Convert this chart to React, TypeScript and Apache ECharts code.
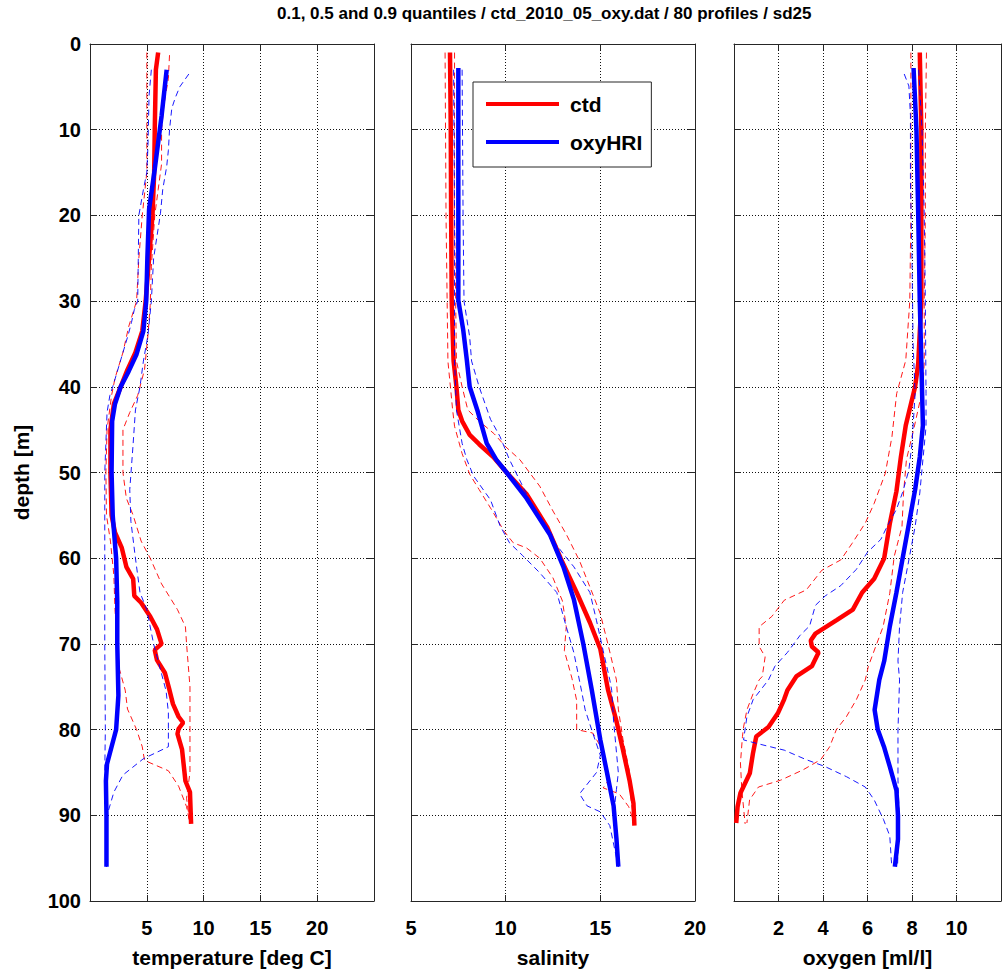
import React, { useEffect, useRef } from "react";
import * as echarts from "echarts";

// ---------- data: [depth (m), value] ----------
// temperature [deg C]
const tempCtdQ10 = [[1,5.0],[15,5.0],[20,4.6],[25,4.3],[30,4.1],[33,3.4],[36,2.9],[39,2.2],[41,1.9],[45,1.5],[50,1.4],[55,1.45],[58,1.8],[62,2.1],[66,2.2],[70,2.4],[73,2.6],[75.4,3.1],[77.6,3.3],[80,4.1],[82,4.6],[83.6,4.8],[84.8,6.9],[86.6,7.8],[89,8.5],[91,8.8]];
const tempCtdMed = [[1,6.0],[3,5.8],[10,5.7],[15,5.65],[20,5.5],[25,5.2],[30,4.9],[33.5,4.6],[36,4.0],[38,3.3],[40,2.7],[42,2.1],[45,1.8],[50,1.8],[55,1.9],[57,2.2],[58.8,2.8],[61,3.2],[62.4,3.8],[64.4,3.9],[65.2,4.5],[66.8,5.3],[68.3,5.9],[70,6.3],[70.7,5.7],[71.9,5.9],[73.4,6.6],[75.4,7.0],[77,7.3],[78.5,7.8],[79.2,8.2],[79.9,7.8],[80.5,7.7],[82.3,8.1],[86,8.4],[87.3,8.8],[91,8.9]];
const tempCtdQ90 = [[1.3,7.0],[4,6.9],[7.2,6.5],[10,6.3],[14,6.3],[17,6.0],[20,5.7],[26,5.4],[30.5,5.3],[34,5.1],[38,4.8],[41,4.2],[43,3.5],[45,2.9],[50,2.9],[53,3.2],[55,3.8],[58,4.5],[60,5.3],[63,6.3],[66,7.7],[68,8.4],[70,8.5],[75,8.8],[80,8.8],[85,8.8],[88,8.5],[91,8.8]];
const tempOxyQ10 = [[3,5.4],[6,5.2],[12,5.1],[15,5.0],[17,4.7],[20,4.3],[30,4.2],[31,3.9],[32.5,3.65],[34,3.35],[36,2.9],[38,2.45],[40,2.0],[41,1.75],[43,1.5],[50,1.3],[60,1.3],[70,1.3],[80,1.35],[85,1.3],[90,1.4],[96,1.45]];
const tempOxyMed = [[3,6.75],[8.4,6.3],[14.6,5.7],[19.3,5.2],[25,5.05],[30,4.95],[33.5,4.7],[36.2,4.1],[38.2,3.4],[40,2.7],[42,2.2],[44,1.95],[50,1.9],[55,2.0],[60,2.3],[65,2.4],[70,2.4],[76,2.5],[80,2.3],[82,1.9],[84,1.5],[86,1.4],[90,1.45],[96,1.45]];
const tempOxyQ90 = [[3.5,8.7],[5,7.9],[6.3,7.5],[7.5,7.2],[10,7.0],[12.4,6.9],[14.3,6.75],[17,6.4],[19.8,6.2],[25,5.6],[30,5.4],[34,5.1],[37,4.7],[40,4.4],[42.7,4.0],[46.6,3.8],[52,3.5],[55.7,3.6],[60,4.0],[64,4.4],[66,5.0],[70,5.6],[73,6.2],[75.5,6.7],[78,6.9],[82,6.9],[83.4,4.7],[85.3,2.9],[87.3,2.1],[90,1.5],[96,1.45]];

// salinity
const salCtdQ10 = [[1,6.8],[20,6.85],[37,6.95],[42.7,7.2],[44.6,7.3],[47.8,7.7],[50.2,8.1],[52,8.6],[54.5,9.3],[56.8,9.9],[58.2,10.4],[58.8,11.1],[60,11.8],[62.3,12.5],[65,13.0],[68,13.2],[70.8,13.1],[74,13.5],[76.6,13.75],[80,13.75],[80.4,14.6],[82.3,15.1],[86,15.4],[86.8,15.15],[87.5,16.0],[89,16.5],[91,16.8]];
const salCtdMed = [[1,7.06],[10,7.1],[20,7.12],[30,7.15],[37,7.25],[40,7.4],[42.7,7.5],[44,7.7],[45.6,8.1],[46.7,8.6],[48.2,9.35],[50,10.05],[52.5,11.1],[56.4,12.2],[60,12.9],[64,13.75],[67.5,14.45],[70.6,15.0],[75.3,15.4],[79,15.85],[82.4,16.2],[86,16.55],[88.6,16.75],[91.2,16.8]];
const salCtdQ90 = [[1,7.3],[20,7.3],[37,7.4],[40,7.7],[42.7,8.0],[44,8.6],[45.5,9.4],[47,10.0],[48.5,10.75],[51.6,11.8],[54.5,12.5],[57.2,13.2],[60.3,13.9],[64.2,14.6],[66.5,15.0],[70,15.4],[74.2,15.85],[77.6,15.95],[81.2,16.2],[85,16.55],[87,16.55],[91,16.8]];
const salOxyQ10 = [[3,7.25],[20,7.3],[37,7.3],[42.7,7.4],[46.6,7.7],[48.5,7.95],[50.4,8.3],[53.2,9.2],[56.2,9.7],[58.2,10.2],[59.7,10.9],[61.7,11.8],[64,12.7],[68,13.2],[71,13.6],[75.4,14.0],[77.7,14.2],[80.4,14.6],[83,15.0],[85,14.8],[87.5,13.9],[88.9,14.3],[89.6,15.0],[91.2,15.5],[96,15.95]];
const salOxyMed = [[2.8,7.5],[10,7.5],[20,7.5],[29.9,7.5],[33.4,7.76],[36.9,7.95],[40,8.1],[42.7,8.5],[46.6,9.0],[48.5,9.5],[50,10.05],[53,11.1],[57.3,12.35],[61,13.05],[64.8,13.6],[70,14.1],[75.4,14.55],[81.2,15.0],[85,15.35],[88.9,15.7],[92.7,15.85],[96,15.95]];
const salOxyQ90 = [[3,7.7],[20,7.75],[30,7.8],[34.2,8.1],[37,8.2],[40,8.6],[43.8,9.2],[45.8,9.7],[48.5,10.2],[51.6,10.9],[54.7,11.6],[57.5,12.35],[59.5,13.05],[61,13.6],[64,14.45],[67.3,14.8],[70.8,15.15],[74.2,15.5],[75.4,15.6],[79,15.7],[85,15.95],[87,15.85],[90,15.7],[96,15.95]];

// oxygen [ml/l]
const oxyCtdQ10 = [[1,7.95],[20,7.95],[30,7.9],[36.9,7.72],[40.8,7.31],[45.8,7.1],[50.1,6.8],[53.6,6.3],[55.9,5.9],[58.3,5.3],[60.2,4.8],[61.4,3.95],[63.7,3.25],[64.9,2.26],[66.8,1.7],[68,1.13],[70.3,1.13],[71.5,1.4],[73.8,1.27],[74.2,1.13],[75.8,0.86],[77.7,0.58],[79.7,0.43],[80.8,0.38],[83.9,0.29],[87,0.35],[91,0.5]];
const oxyCtdMed = [[1,8.35],[10,8.42],[20,8.42],[30,8.42],[37.3,8.28],[40,8.14],[44.5,7.72],[48.2,7.5],[52.2,7.3],[56,7.0],[60,6.75],[62.4,6.3],[64,5.76],[66,5.34],[67.2,4.63],[68.8,3.66],[69.6,3.45],[70.3,3.5],[71,3.8],[72.6,3.5],[73.8,2.8],[75.4,2.4],[76.5,2.25],[78.1,1.97],[79.7,1.55],[80.8,1.0],[82.8,0.85],[85.1,0.71],[87.4,0.29],[89,0.16],[90.9,0.1]];
const oxyCtdQ90 = [[1,8.65],[10,8.6],[20,8.6],[30,8.55],[37,8.55],[40,8.5],[44.7,8.1],[48.5,7.75],[52.4,7.62],[56.3,7.55],[59.8,7.2],[64.1,7.0],[68,6.7],[72.6,6.04],[74.2,5.9],[76.5,5.5],[78.5,5.05],[80,4.6],[82,4.3],[83.5,3.9],[84.7,3.1],[85.9,2.1],[86.7,1.1],[88.2,0.7],[90.9,0.58]];
const oxyOxyQ10 = [[3.5,7.65],[4.9,7.86],[8.3,7.93],[16,7.93],[25,8.0],[35,8.05],[40.8,8.14],[46.6,8.0],[49.7,7.86],[52.3,7.58],[54.3,7.3],[56.2,6.9],[57.8,6.6],[59.3,6.0],[61.3,5.5],[63.2,4.8],[64.4,4.1],[65.5,3.66],[67.9,3.4],[69,2.97],[71,2.4],[72.6,1.84],[74.2,1.55],[76.5,0.86],[78.5,0.58],[81.2,0.43],[81.6,1.0],[82.4,2.26],[83.5,3.24],[84.3,4.08],[85.5,5.06],[86.7,5.9],[88.2,6.3],[90.5,6.72],[92.4,7.0],[95.2,7.07],[96,7.1]];
const oxyOxyMed = [[2.8,8.07],[10,8.2],[20,8.28],[30,8.35],[37,8.42],[44.5,8.49],[48.2,8.35],[52,8.14],[56,7.86],[60,7.58],[64,7.3],[68,7.0],[72,6.75],[74.2,6.53],[77.7,6.32],[80,6.46],[82,6.74],[84.3,7.0],[87.1,7.3],[90,7.37],[92.8,7.37],[96,7.23]];
const oxyOxyQ90 = [[3,8.3],[10,8.45],[20,8.55],[30,8.6],[40.8,8.63],[44.7,8.63],[48.5,8.49],[52.4,8.35],[56.3,8.14],[60.2,7.86],[64,7.58],[68,7.44],[72,7.37],[74.2,7.44],[80,7.37],[85.9,7.37],[89.8,7.42],[96,7.35]];

// axes
const depthTicks = { min: 0, max: 100, interval: 10 };
const tempAxis = { min: 0, max: 25, interval: 5, name: "temperature [deg C]", hidden: [0, 25] };
const salAxis = { min: 5, max: 20, interval: 5, name: "salinity", hidden: [] as number[] };
const oxyAxis = { min: 0, max: 12, interval: 2, name: "oxygen [ml/l]", hidden: [0, 12] };
const titleText = "0.1, 0.5 and 0.9 quantiles / ctd_2010_05_oxy.dat / 80 profiles / sd25";
const legendNames = ["ctd", "oxyHRI"];

const FONT = "Liberation Sans, Arial, Helvetica, sans-serif";
const RED = "#ff0000";
const BLUE = "#0000ff";
const AXIS_COLOR = "#262626";

const gridBoxes = [
  { left: 90, top: 44, width: 284, height: 857 },
  { left: 411, top: 44, width: 284, height: 857 },
  { left: 734, top: 44, width: 283, height: 857 },
];

function mkSeries(name: string, data: number[][], color: string, dashed: boolean, idx: number) {
  return {
    type: "line",
    name,
    data: data.map(([d, v]) => [v, d]),
    xAxisIndex: idx,
    yAxisIndex: idx,
    symbol: "none",
    showSymbol: false,
    silent: true,
    clip: true,
    lineStyle: {
      color,
      width: dashed ? 1 : 4.5,
      type: dashed ? [6, 4] : "solid",
      opacity: dashed ? 0.9 : 1,
    },
    itemStyle: { color },
    emphasis: { disabled: true },
  };
}

function App() {
  const ref = useRef<HTMLDivElement>(null);
  useEffect(() => {
    document.body.style.margin = "0";
    if (!ref.current) return;
    const chart = echarts.init(ref.current, undefined, { renderer: "svg" });
    const xDefs = [tempAxis, salAxis, oxyAxis];
    const xAxes: any[] = [];
    const yAxes: any[] = [];
    const gridLine = { show: true, lineStyle: { color: "#111", type: [1, 2], width: 1 } };
    xDefs.forEach((ax, i) => {
      xAxes.push({
        type: "value",
        gridIndex: i,
        position: "bottom",
        min: ax.min,
        max: ax.max,
        interval: ax.interval,
        name: ax.name,
        nameLocation: "middle",
        nameGap: 46,
        nameTextStyle: { fontFamily: FONT, fontWeight: "bold", fontSize: 21, color: "#000" },
        axisLine: { show: true, onZero: false, lineStyle: { color: AXIS_COLOR, width: 1 } },
        axisTick: { show: true, inside: true, length: 6, lineStyle: { color: AXIS_COLOR } },
        axisLabel: {
          show: true,
          margin: 17,
          fontFamily: FONT,
          fontWeight: "bold",
          fontSize: 20,
          color: "#000",
          formatter: (v: number) => (ax.hidden.indexOf(v) >= 0 ? "" : String(v)),
        },
        splitLine: gridLine,
      });
      yAxes.push({
        type: "value",
        gridIndex: i,
        position: "left",
        inverse: true,
        min: depthTicks.min,
        max: depthTicks.max,
        interval: depthTicks.interval,
        name: i === 0 ? "depth [m]" : "",
        nameLocation: "middle",
        nameGap: 58,
        nameTextStyle: { fontFamily: FONT, fontWeight: "bold", fontSize: 21, color: "#000" },
        axisLine: { show: true, onZero: false, lineStyle: { color: AXIS_COLOR, width: 1 } },
        axisTick: { show: true, inside: true, length: 7, lineStyle: { color: AXIS_COLOR } },
        axisLabel: {
          show: i === 0,
          margin: 9,
          fontFamily: FONT,
          fontWeight: "bold",
          fontSize: 20,
          color: "#000",
        },
        splitLine: gridLine,
      });
    });
    xDefs.forEach((ax, i) => {
      xAxes.push({
        type: "value",
        gridIndex: i,
        position: "top",
        min: ax.min,
        max: ax.max,
        interval: ax.interval,
        axisLine: { show: true, onZero: false, lineStyle: { color: AXIS_COLOR, width: 1 } },
        axisTick: { show: true, inside: true, length: 6, lineStyle: { color: AXIS_COLOR } },
        axisLabel: { show: false },
        splitLine: { show: false },
      });
      yAxes.push({
        type: "value",
        gridIndex: i,
        position: "right",
        inverse: true,
        min: depthTicks.min,
        max: depthTicks.max,
        interval: depthTicks.interval,
        axisLine: { show: true, onZero: false, lineStyle: { color: AXIS_COLOR, width: 1 } },
        axisTick: { show: true, inside: true, length: 7, lineStyle: { color: AXIS_COLOR } },
        axisLabel: { show: false },
        splitLine: { show: false },
      });
    });

    const panels = [
      [tempCtdQ10, tempCtdMed, tempCtdQ90, tempOxyQ10, tempOxyMed, tempOxyQ90],
      [salCtdQ10, salCtdMed, salCtdQ90, salOxyQ10, salOxyMed, salOxyQ90],
      [oxyCtdQ10, oxyCtdMed, oxyCtdQ90, oxyOxyQ10, oxyOxyMed, oxyOxyQ90],
    ];
    const series: any[] = [];
    panels.forEach((p, i) => {
      series.push(mkSeries("ctd 0.1", p[0], RED, true, i));
      series.push(mkSeries(legendNames[0], p[1], RED, false, i));
      series.push(mkSeries("ctd 0.9", p[2], RED, true, i));
      series.push(mkSeries("oxyHRI 0.1", p[3], BLUE, true, i));
      series.push(mkSeries(legendNames[1], p[4], BLUE, false, i));
      series.push(mkSeries("oxyHRI 0.9", p[5], BLUE, true, i));
    });

    chart.setOption({
      animation: false,
      backgroundColor: "#fff",
      title: {
        text: titleText,
        left: 277,
        top: 5,
        padding: 0,
        textStyle: { fontFamily: FONT, fontWeight: "bold", fontSize: 17, color: "#000" },
      },
      legend: {
        show: true,
        data: legendNames.map((n) => ({ name: n, icon: "rect" })),
        orient: "vertical",
        left: 473,
        top: 82,
        padding: [11, 9, 14, 13],
        itemGap: 16,
        itemWidth: 73,
        itemHeight: 4,
        selectedMode: false,
        backgroundColor: "#fff",
        borderColor: AXIS_COLOR,
        borderWidth: 1,
        borderRadius: 0,
        z: 10,
        textStyle: {
          fontFamily: FONT,
          fontWeight: "bold",
          fontSize: 21,
          lineHeight: 22,
          color: "#000",
          padding: [0, 0, 0, 6],
        },
      },
      grid: gridBoxes.map((g) => ({ ...g, containLabel: false, show: false })),
      xAxis: xAxes,
      yAxis: yAxes,
      series,
    });
    return () => chart.dispose();
  }, []);
  return (
    <div
      ref={ref}
      style={{ position: "absolute", left: 0, top: 0, width: 1004, height: 973, overflow: "hidden" }}
    />
  );
}

export default App;
